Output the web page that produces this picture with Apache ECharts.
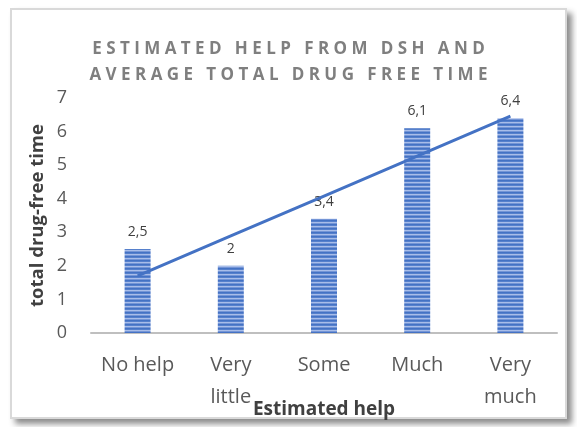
<!DOCTYPE html>
<html>
<head>
<meta charset="utf-8">
<script src="https://cdn.jsdelivr.net/npm/echarts@6/dist/echarts.min.js"></script>
<style>
  body { margin: 0; background: #fff; }
  #frame {
    position: absolute; left: 10px; top: 8px; width: 553px; height: 407px;
    border: 2px solid #d9d9d9; background: #fff;
    box-shadow: 5px 5px 6px rgba(0, 0, 0, 0.45);
  }
  #chart { position: absolute; left: 0; top: 0; width: 577px; height: 427px; }
</style>
</head>
<body>
<div id="frame"></div>
<div id="chart"></div>
<script>
// data
const categories = ['No help', 'Very\nlittle', 'Some', 'Much', 'Very\nmuch'];
const drugFreeTime = [2.5, 2, 3.4, 6.1, 6.4];
const trendValues = [1.7, 2.89, 4.08, 5.27, 6.46];
const yTicks = [0, 1, 2, 3, 4, 5, 6, 7];
const titleLines = ['ESTIMATED HELP FROM DSH AND', 'AVERAGE TOTAL DRUG FREE TIME'];

// wide letter spacing like the original title
function spaced(s) {
  return s.split(' ').map(w => w.split('').join(' ')).join('   ');
}

// horizontal stripe fill for the bars
function stripes() {
  const c = document.createElement('canvas');
  c.width = 4; c.height = 4;
  const ctx = c.getContext('2d');
  const rows = ['#4472c4', '#5680cc', '#a8bde9', '#7495d6'];
  rows.forEach((col, i) => {
    ctx.fillStyle = col;
    ctx.fillRect(0, i, 4, 1);
  });
  return c;
}

const chart = echarts.init(document.getElementById('chart'));
const option = {
  animation: false,
  title: {
    text: titleLines.map(spaced).join('\n'),
    left: 'center',
    top: 31,
    textStyle: {
      fontFamily: 'Open Sans',
      fontSize: 17,
      fontWeight: 'bold',
      color: '#7f7f7f',
      lineHeight: 26
    }
  },
  grid: {
    left: 91,
    right: 20,
    top: 98,
    bottom: 94,
    outerBoundsMode: 'none'
  },
  xAxis: {
    type: 'category',
    data: categories,
    name: 'Estimated help',
    nameLocation: 'middle',
    nameGap: 67,
    nameMoveOverlap: false,
    nameTextStyle: {
      fontFamily: 'Open Sans',
      fontSize: 19,
      fontWeight: 'bold',
      color: '#404040'
    },
    axisTick: { show: false },
    axisLine: { lineStyle: { color: '#bfbfbf', width: 2 } },
    axisLabel: {
      interval: 0,
      hideOverlap: false,
      fontFamily: 'Open Sans',
      fontSize: 20,
      color: '#595959',
      lineHeight: 32,
      margin: 16
    }
  },
  yAxis: {
    type: 'value',
    min: yTicks[0],
    max: yTicks[yTicks.length - 1],
    interval: 1,
    name: 'total drug-free time',
    nameLocation: 'middle',
    nameGap: 44,
    nameMoveOverlap: false,
    nameTextStyle: {
      fontFamily: 'Open Sans',
      fontSize: 18.5,
      fontWeight: 'bold',
      color: '#404040'
    },
    splitLine: { show: false },
    axisLabel: {
      fontFamily: 'Open Sans',
      fontSize: 18,
      color: '#595959',
      margin: 24
    }
  },
  series: [
    {
      name: 'drug-free time',
      type: 'bar',
      data: drugFreeTime,
      barWidth: 26,
      itemStyle: { color: { image: stripes(), repeat: 'repeat' } },
      label: {
        show: true,
        position: 'top',
        distance: 10,
        fontFamily: 'Open Sans',
        fontSize: 14,
        color: '#404040',
        formatter: p => String(p.value).replace('.', ',')
      }
    },
    {
      name: 'trend',
      type: 'line',
      data: trendValues,
      symbol: 'none',
      lineStyle: { color: '#4472c4', width: 3 },
      z: 5
    }
  ]
};
chart.setOption(option);
</script>
</body>
</html>
